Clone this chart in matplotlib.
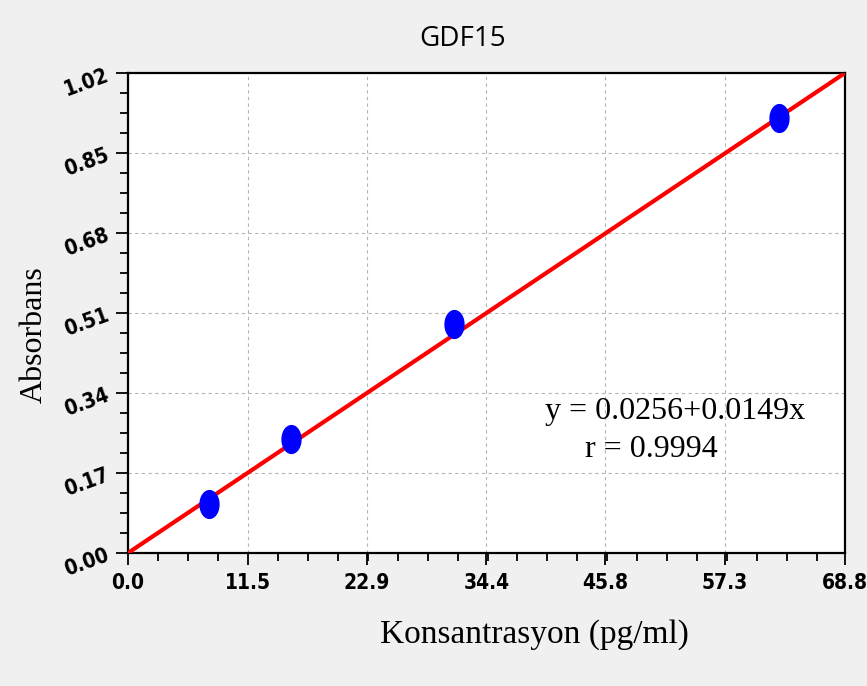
import matplotlib
matplotlib.use("Agg")
import matplotlib.pyplot as plt
import matplotlib.ticker as ticker
from matplotlib.path import Path
import numpy as np

# standards
conc = [7.8, 15.6, 31.25, 62.5]
absorb = [0.104, 0.243, 0.487, 0.924]

# fitted line as drawn (origin to top-right corner)
fit_x = [0.0, 68.8]
fit_y = [0.0, 1.02]

xticks = [0.0, 11.5, 22.9, 34.4, 45.8, 57.3, 68.8]
yticks = [0.00, 0.17, 0.34, 0.51, 0.68, 0.85, 1.02]

narrow = ['DejaVu Sans']
serif = ['Liberation Serif', 'DejaVu Serif']

# upright ellipse marker
t = np.linspace(0, 2 * np.pi, 60)
ell = Path(np.column_stack([0.68 * np.cos(t), np.sin(t)]))

fig = plt.figure(figsize=(8.67, 6.86), dpi=100, facecolor='#f0f0f0')
ax = fig.add_axes([0.1476, 0.1939, 0.827, 0.6997])
ax.set_facecolor('white')

ax.plot(fit_x, fit_y, color='red', lw=3, zorder=3)
ax.plot(conc, absorb, linestyle='none', marker=ell, ms=20,
        mfc='#0000ff', mec='#0000ff', zorder=4)

ax.set_xlim(xticks[0], xticks[-1])
ax.set_ylim(yticks[0], yticks[-1])
ax.set_xticks(xticks)
ax.set_yticks(yticks)
ax.set_xticklabels(['%.1f' % v for v in xticks], family=narrow,
                   fontweight='bold', fontsize=15, fontstretch='condensed')
ax.set_yticklabels(['%.2f' % v for v in yticks], family=narrow,
                   fontweight='bold', fontsize=15, fontstretch='condensed',
                   rotation=20)
ax.xaxis.set_minor_locator(ticker.AutoMinorLocator(4))
ax.yaxis.set_minor_locator(ticker.AutoMinorLocator(4))
ax.tick_params(which='major', direction='out', length=8.5, width=1.3)
ax.tick_params(axis='x', which='major', pad=6)
ax.tick_params(axis='y', which='major', pad=3)
ax.tick_params(which='minor', direction='out', length=5.5, width=1.3)

ax.grid(True, which='major', linestyle=(0, (3, 3)), color='#b5b5b5', lw=0.8)
for s in ax.spines.values():
    s.set_linewidth(1.6)

ax.set_xlabel('Konsantrasyon (pg/ml)', family=serif, fontsize=24)
ax.xaxis.set_label_coords(0.567, -0.138)
ax.set_ylabel('Absorbans', family=serif, fontsize=23)
ax.yaxis.set_label_coords(-0.111, 0.455)
fig.text(0.533, 0.943, 'GDF15', family=['Open Sans', 'DejaVu Sans'],
         fontsize=20, ha='center', va='center')

ax.text(0.582, 0.295, 'y = 0.0256+0.0149x', transform=ax.transAxes,
        family=serif, fontsize=23, ha='left', va='center')
ax.text(0.638, 0.215, 'r = 0.9994', transform=ax.transAxes,
        family=serif, fontsize=23, ha='left', va='center')

fig.savefig('out.png', dpi=100, facecolor=fig.get_facecolor())
